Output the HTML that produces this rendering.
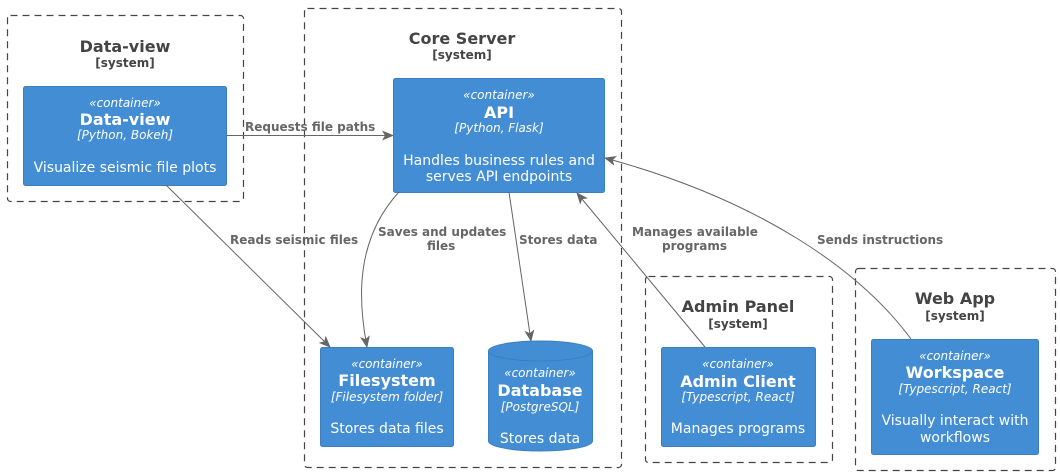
<!DOCTYPE html>
<html><head><meta charset="utf-8"><style>
html,body{margin:0;padding:0;background:#fff;width:1060px;height:475px;overflow:hidden}
svg{display:block}
text{font-family:"DejaVu Sans","Liberation Sans",sans-serif}
.bt{font-size:16px;font-weight:bold;fill:#444;text-anchor:middle}
.bs{font-size:12px;font-weight:bold;fill:#444;text-anchor:middle}
.st{font-size:12px;font-style:italic;fill:#fff;text-anchor:middle}
.nm{font-size:16px;font-weight:bold;fill:#fff;text-anchor:middle}
.de{font-size:14px;fill:#fff;text-anchor:middle}
.lb{font-size:12px;font-weight:bold;fill:#666}
.bd{fill:none;stroke:#444;stroke-width:1.2;stroke-dasharray:7,5}
.ct{fill:#438DD5;stroke:#3C7FC0;stroke-width:1}
.ln{fill:none;stroke:#666;stroke-width:1}
</style></head><body>
<svg width="1060" height="475" viewBox="0 0 1060 475" xmlns="http://www.w3.org/2000/svg">
<defs><marker id="ah" markerWidth="12" markerHeight="10" refX="11" refY="5" orient="auto" markerUnits="userSpaceOnUse"><path d="M0,0 L12,5 L0,10 L3,5 z" fill="#666"/></marker></defs>

<rect class="bd" x="7.5" y="15.5" width="236" height="186" rx="3"/>
<text class="bt" x="125" y="52">Data-view</text><text class="bs" x="125" y="67">[system]</text>
<rect class="bd" x="304.5" y="8.5" width="317" height="459" rx="3"/>
<text class="bt" x="462" y="44">Core Server</text><text class="bs" x="462" y="59">[system]</text>
<rect class="bd" x="645.5" y="276.5" width="187" height="186" rx="3"/>
<text class="bt" x="738" y="312">Admin Panel</text><text class="bs" x="738" y="328">[system]</text>
<rect class="bd" x="855.5" y="268.5" width="200" height="202" rx="3"/>
<text class="bt" x="955" y="304">Web App</text><text class="bs" x="955" y="320">[system]</text>

<rect class="ct" x="23.5" y="86.5" width="203" height="99" rx="2"/>
<text class="st" x="125" y="107">«container»</text><text class="nm" x="125" y="125">Data-view</text>
<text class="st" x="125" y="139">[Python, Bokeh]</text><text class="de" x="125" y="172">Visualize seismic file plots</text>

<rect class="ct" x="393.5" y="78.5" width="211" height="114" rx="2"/>
<text class="st" x="499" y="99">«container»</text><text class="nm" x="499" y="118">API</text>
<text class="st" x="499" y="132">[Python, Flask]</text>
<text class="de" x="499" y="165">Handles business rules and</text><text class="de" x="499" y="181">serves API endpoints</text>

<rect class="ct" x="320.5" y="347.5" width="133" height="99" rx="2"/>
<text class="st" x="387" y="368">«container»</text><text class="nm" x="387" y="386">Filesystem</text>
<text class="st" x="387" y="401">[Filesystem folder]</text><text class="de" x="387" y="433">Stores data files</text>

<path d="M488.5,351 A52,10 0 0 1 592.5,351 L592.5,441 A52,10 0 0 1 488.5,441 Z" fill="#438DD5" stroke="#3C7FC0"/>
<path d="M488.5,351 A52,10 0 0 0 592.5,351" fill="none" stroke="#3C7FC0"/>
<text class="st" x="540" y="377">«container»</text><text class="nm" x="540" y="396">Database</text>
<text class="st" x="540" y="411">[PostgreSQL]</text><text class="de" x="540" y="443">Stores data</text>

<rect class="ct" x="661.5" y="347.5" width="154" height="99" rx="2"/>
<text class="st" x="738" y="368">«container»</text><text class="nm" x="738" y="387">Admin Client</text>
<text class="st" x="738" y="401">[Typescript, React]</text><text class="de" x="738" y="433">Manages programs</text>

<rect class="ct" x="871.5" y="339.5" width="167" height="115" rx="2"/>
<text class="st" x="955" y="360">«container»</text><text class="nm" x="955" y="378">Workspace</text>
<text class="st" x="955" y="393">[Typescript, React]</text>
<text class="de" x="955" y="425">Visually interact with</text><text class="de" x="955" y="442">workflows</text>

<line class="ln" x1="227" y1="135.5" x2="393" y2="135.5" marker-end="url(#ah)"/>
<text class="lb" x="245" y="131">Requests file paths</text>
<line class="ln" x1="166" y1="185" x2="330" y2="347" marker-end="url(#ah)"/>
<text class="lb" x="230" y="244">Reads seismic files</text>
<path class="ln" d="M399,192 C355,240 358,300 367,347" marker-end="url(#ah)"/>
<text class="lb" x="378" y="236">Saves and updates</text><text class="lb" x="427" y="250">files</text>
<line class="ln" x1="509" y1="192" x2="531" y2="341" marker-end="url(#ah)"/>
<text class="lb" x="519" y="244">Stores data</text>
<line class="ln" x1="705" y1="347" x2="577" y2="193" marker-end="url(#ah)"/>
<text class="lb" x="632" y="236">Manages available</text><text class="lb" x="662" y="250">programs</text>
<path class="ln" d="M911,339 C860,270 760,200 605,158" marker-end="url(#ah)"/>
<text class="lb" x="817" y="244">Sends instructions</text>
</svg>
</body></html>
